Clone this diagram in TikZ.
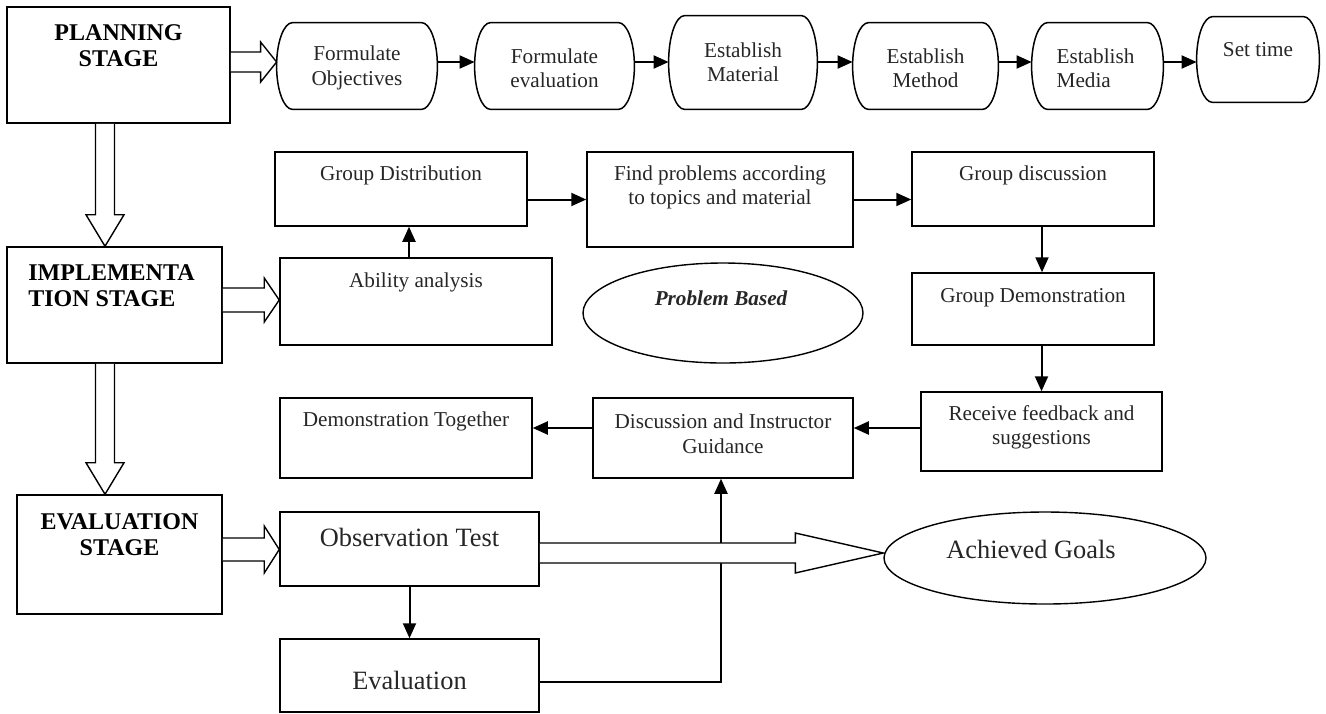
\documentclass[tikz,border=0pt]{standalone}
\usepackage{fontspec}
\setmainfont{Liberation Serif}
\usetikzlibrary{calc,shapes.geometric,arrows.meta}

\begin{document}
\begin{tikzpicture}[x=0.5pt,y=-0.5pt,
			>={Triangle[length=7.5pt,width=6.5pt]},
			stg/.style={rectangle, draw, line width=0.75pt, inner sep=0pt},
			stp/.style={rectangle, inner sep=0pt},
			act/.style={rectangle, draw, line width=0.75pt, inner sep=0pt},
			ell/.style={ellipse, draw, line width=0.7pt, inner sep=0pt},
			stgtxt/.style={font=\fontsize{12}{13}\selectfont\bfseries, align=center, inner sep=0pt},
			txt/.style={font=\fontsize{10.6}{12.2}\selectfont, text=black!85, align=center, inner sep=0pt},
			bigtxt/.style={font=\fontsize{13.2}{15}\selectfont, text=black!85, inner sep=0pt},
			link/.style={->, line width=1pt},
			hollow/.style={draw, fill=white, line width=0.7pt}
				]
			\useasboundingbox (0,0) rectangle (1326,713);
			\def\rad{8pt}
			\coordinate (row) at (0,62);
			\coordinate (irow) at (0,300);
			\coordinate (erow) at (0,549.5);
			\coordinate (grow) at (0,553);
			\coordinate (col) at (105,0);

			%stages
			\node[stg, minimum width=111.5pt, minimum height=58pt] at (118.5,65) (plan) {};
			\node[stg, minimum width=107.5pt, minimum height=58pt] at (114.5,305) (impl) {};
			\node[stg, minimum width=102.5pt, minimum height=59.5pt] at (119.5,554.5) (evalst) {};
			\node[stgtxt] at ([yshift=-19.5pt]plan.north) (plan-t) {PLANNING\\STAGE};
			\node[stgtxt, align=left] at ([xshift=-1.5pt,yshift=-19.75pt]impl.north) (impl-t) {IMPLEMENTA\\TION STAGE};
			\node[stgtxt] at ([yshift=-20pt]evalst.north) (evalst-t) {EVALUATION\\STAGE};

			%planning steps
			\node[stp, minimum width=80pt, minimum height=43pt] at (357,66) (fo) {};
			\node[stp, minimum width=79.5pt, minimum height=43pt] at (554.5,66) (fe) {};
			\node[stp, minimum width=74pt, minimum height=46.5pt] at (743,62.5) (em) {};
			\node[stp, minimum width=72.5pt, minimum height=43pt] at (925.5,66) (eme) {};
			\node[stp, minimum width=65.5pt, minimum height=43pt] at (1097.5,66) (emd) {};
			\node[stp, minimum width=61pt, minimum height=42.5pt] at (1258,59.5) (st) {};
			\foreach \b in {fo,fe,em,eme,emd,st}
				\draw[line width=0.75pt] let \p1=(\b.north west), \p2=(\b.south east), \n1={(\y1-\y2)/2} in
					([xshift=\rad]\b.north west) -- ([xshift=-\rad]\b.north east)
					arc[start angle=90, end angle=-90, x radius=\rad, y radius={\n1*1pt}]
					-- ([xshift=\rad]\b.south west)
					arc[start angle=270, end angle=90, x radius=\rad, y radius={\n1*1pt}] -- cycle;
			\node[txt] at ([yshift=-1pt]fo) (fo-t) {Formulate\\Objectives};
			\node[txt] at ([yshift=-1pt]fe) (fe-t) {Formulate\\evaluation};
			\node[txt] at (em) (em-t) {Establish\\Material};
			\node[txt] at ([yshift=-1pt]eme) (eme-t) {Establish\\Method};
			\node[txt, align=left] at ([xshift=-1pt,yshift=-1pt]emd) (emd-t) {Establish\\Media};
			\node[txt] at ([yshift=-16.5pt]st.north) (st-t) {Set time};
			\foreach \a/\b in {fo/fe,fe/em,em/eme,eme/emd,emd/st}
				\draw[link] (\a.east |- row) -- (\b.west |- row);

			%implementation
			\node[act, minimum width=126pt, minimum height=37pt] at (401,189) (gd) {};
			\node[act, minimum width=133pt, minimum height=47.5pt] at (720,199.5) (fp) {};
			\node[act, minimum width=121pt, minimum height=37pt] at (1033,189) (gdisc) {};
			\node[act, minimum width=136pt, minimum height=43.5pt] at (416,301.5) (aa) {};
			\node[ell, minimum width=140pt, minimum height=50pt] at (723,313) (pb) {};
			\node[act, minimum width=121pt, minimum height=36pt] at (1033,309) (gdemo) {};
			\node[act, minimum width=120.5pt, minimum height=39.5pt] at (1041.5,431.5) (rf) {};
			\node[act, minimum width=130pt, minimum height=40pt] at (723,438) (disc) {};
			\node[act, minimum width=126pt, minimum height=40pt] at (406,438) (demo) {};

			\node[txt] at ([yshift=-12pt]gd.north) (gd-t) {Group Distribution};
			\node[txt] at ([yshift=-18pt]fp.north) (fp-t) {Find problems according\\to topics and material};
			\node[txt] at ([yshift=-12pt]gdisc.north) (gdisc-t) {Group discussion};
			\node[txt] at ([yshift=-12.5pt]aa.north) (aa-t) {Ability analysis};
			\node[txt, font=\fontsize{10.6}{12.2}\selectfont\bfseries\itshape] at ([xshift=-1pt,yshift=7.5pt]pb) (pb-t) {Problem Based};
			\node[txt] at ([yshift=-12.5pt]gdemo.north) (gdemo-t) {Group Demonstration};
			\node[txt] at ([yshift=-18pt]rf.north) (rf-t) {Receive feedback and\\suggestions};
			\node[txt] at ([yshift=-18.25pt]disc.north) (disc-t) {Discussion and Instructor\\Guidance};
			\node[txt] at ([yshift=-12pt]demo.north) (demo-t) {Demonstration Together};

			\draw[link] ([xshift=-3.5pt]aa.north) -- ([xshift=-3.5pt]aa.north |- gd.south);
			\draw[link] (gd.east |- fp.west) -- (fp.west);
			\draw[link] (fp.east) -- (fp.east -| gdisc.west);
			\draw[link] ([xshift=4.5pt]gdisc.south) -- ([xshift=4.5pt]gdisc.south |- gdemo.north);
			\draw[link] (gdemo.south -| rf.north) -- (rf.north);
			\draw[link] ([yshift=1.75pt]rf.west) -- ([yshift=1.75pt]rf.west -| disc.east);
			\draw[link] ([yshift=5pt]disc.west) -- ([yshift=5pt]disc.west -| demo.east);

			%evaluation
			\node[act, minimum width=129.5pt, minimum height=37pt] at (409.5,549) (obs) {};
			\node[act, minimum width=129.5pt, minimum height=36.5pt] at (409.5,675.5) (evaln) {};
			\node[ell, minimum width=161pt, minimum height=46pt] at (1045,558) (ach) {};
			\node[bigtxt] at ([yshift=-13pt]obs.north) (obs-t) {Observation Test};
			\node[bigtxt] at ([yshift=-21pt]evaln.north) (evaln-t) {Evaluation};
			\node[bigtxt] at ([xshift=-7pt,yshift=4.5pt]ach) (ach-t) {Achieved Goals};

			\draw[link] (obs.south) -- (evaln.north);
			\draw[link] ([yshift=-3.25pt]evaln.east) -| ([xshift=-1pt]disc.south);

			%block arrows
			\foreach \src/\dst/\lv/\sw/\hw/\hl in {plan/fo/row/10/20/16, impl/aa/irow/12/22/15, evalst/obs/erow/11.5/23.5/15, obs/ach/grow/10/20/88}
				\draw[hollow] ($(\src.east |- \lv)+(0,-\sw)$) -- ($(\dst.west |- \lv)+(-\hl,-\sw)$) -- ($(\dst.west |- \lv)+(-\hl,-\hw)$) -- (\dst.west |- \lv) -- ($(\dst.west |- \lv)+(-\hl,\hw)$) -- ($(\dst.west |- \lv)+(-\hl,\sw)$) -- ($(\src.east |- \lv)+(0,\sw)$);
			\foreach \src/\dst in {plan/impl, impl/evalst}
				\draw[hollow] ($(\src.south -| col)+(-9.5,0)$) -- ($(\dst.north -| col)+(-9.5,-31.5)$) -- ($(\dst.north -| col)+(-19,-31.5)$) -- (\dst.north -| col) -- ($(\dst.north -| col)+(19,-31.5)$) -- ($(\dst.north -| col)+(9.5,-31.5)$) -- ($(\src.south -| col)+(9.5,0)$);
	\end{tikzpicture}
\end{document}
